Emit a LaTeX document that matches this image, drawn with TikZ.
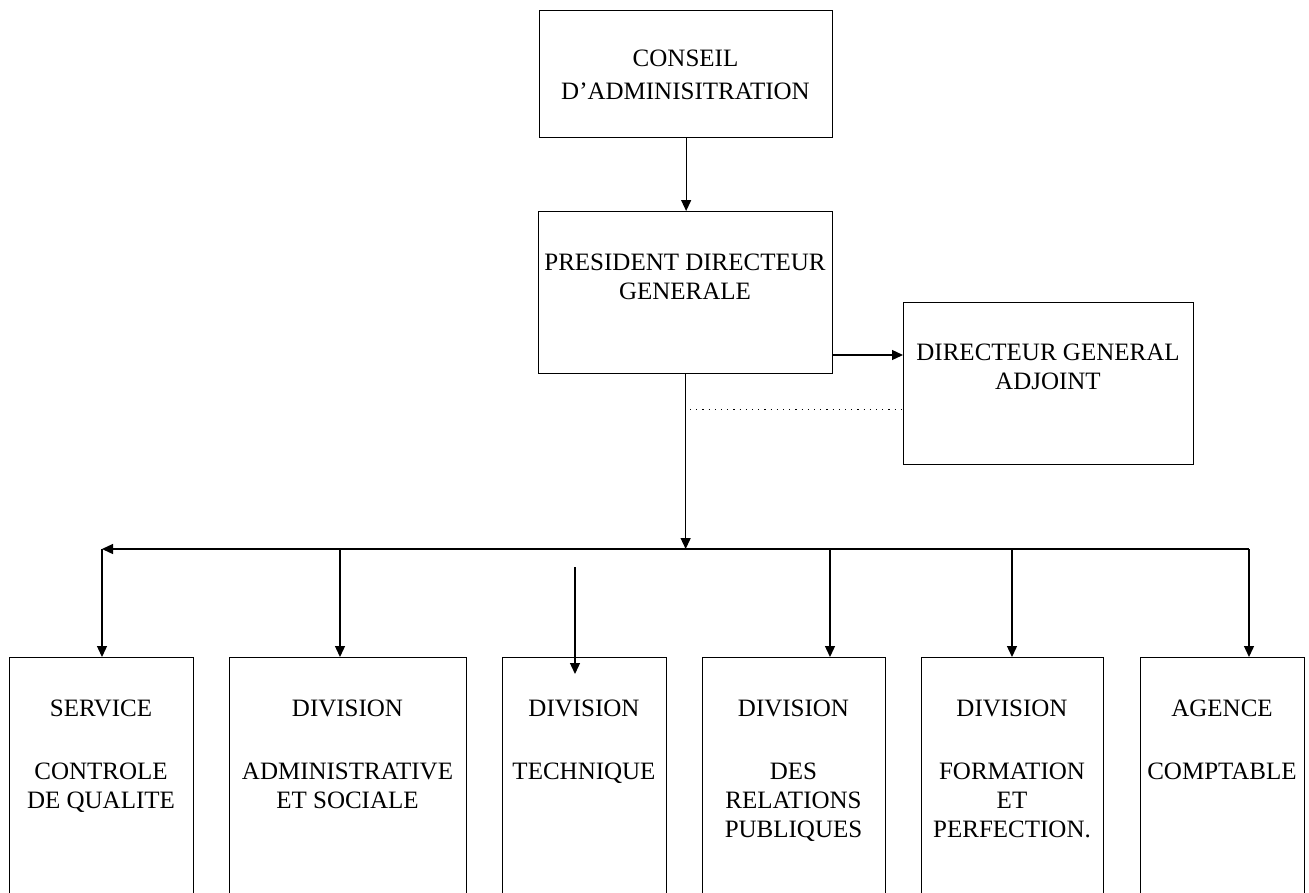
\documentclass[tikz,border=0pt]{standalone}
\usepackage{fontspec}
\setmainfont{Liberation Serif}
\usetikzlibrary{arrows.meta,calc}
\begin{document}
\begin{tikzpicture}[x=1pt,y=-1pt,
  box/.style={draw=black,line width=1.3pt,rectangle,inner sep=0pt,anchor=north west},
  lbl/.style={align=center,inner sep=0pt,anchor=north,font=\fontsize{25}{29}\selectfont},
  arr/.style={line width=1.3pt,-{Triangle[length=11pt,width=10pt]}},
  dots/.style={line width=0.9pt,dash pattern=on 1.2pt off 5pt}
]
\useasboundingbox (0,0) rectangle (1309,892);
\clip (0,0) rectangle (1309,892);

% boxes
\node[box,minimum width=293pt,minimum height=127pt] (cons) at (539,10) {};
\node[box,minimum width=294pt,minimum height=162pt] (pdg) at (538,211) {};
\node[box,minimum width=290pt,minimum height=162pt] (dga) at (903,302) {};
\node[box,minimum width=184pt,minimum height=260pt] (b1) at (9,657) {};
\node[box,minimum width=237pt,minimum height=260pt] (b2) at (229,657) {};
\node[box,minimum width=164pt,minimum height=260pt] (b3) at (502,657) {};
\node[box,minimum width=183pt,minimum height=260pt] (b4) at (702,657) {};
\node[box,minimum width=182pt,minimum height=260pt] (b5) at (921,657) {};
\node[box,minimum width=164pt,minimum height=260pt] (b6) at (1140,657) {};

% labels
\node[lbl,font=\fontsize{25}{33}\selectfont] (tcons) at (685.5,50) {CONSEIL\\D’ADMINISITRATION};
\node[lbl] (tpdg) at (685,254) {PRESIDENT DIRECTEUR\\GENERALE};
\node[lbl] (tdga) at (1048,344) {DIRECTEUR GENERAL\\ADJOINT};
\node[lbl] (t1) at (101,700) {SERVICE\\[34pt]CONTROLE\\DE QUALITE};
\node[lbl] (t2) at (347.5,700) {DIVISION\\[34pt]ADMINISTRATIVE\\ET SOCIALE};
\node[lbl] (t3) at (584,700) {DIVISION\\[34pt]TECHNIQUE};
\node[lbl] (t4) at (793.5,700) {DIVISION\\[34pt]DES\\RELATIONS\\PUBLIQUES};
\node[lbl] (t5) at (1012,700) {DIVISION\\[34pt]FORMATION\\ET\\PERFECTION.};
\node[lbl] (t6) at (1222,700) {AGENCE\\[34pt]COMPTABLE};

% connectors
\draw[arr] (cons.south) -- (cons.south |- pdg.north);
\draw[arr] (pdg.east |- 0,355) -- (dga.west |- 0,355);
\coordinate (bus) at (685,549);
\draw[arr] (pdg.south) -- (pdg.south |- bus);
\coordinate (d1) at (102,549);
\coordinate (d2) at (340,549);
\coordinate (d4) at (830,549);
\coordinate (d5) at (1012,549);
\coordinate (d6) at (1249,549);
\draw[arr] (d6) -- (d1);
\draw[arr] (d1) -- (d1 |- b1.north);
\draw[arr] (d2) -- (d2 |- b2.north);
\draw[arr] (d4) -- (d4 |- b4.north);
\draw[arr] (d5) -- (d5 |- b5.north);
\draw[arr] (d6) -- (d6 |- b6.north);
\coordinate (t0) at (575,567);
\draw[arr] (t0) -- ($(t0 |- b3.north)+(0,17)$);
\coordinate (dt) at (690,409);
\draw[dots] (dt) -- (dga.west |- dt);
\end{tikzpicture}
\end{document}
